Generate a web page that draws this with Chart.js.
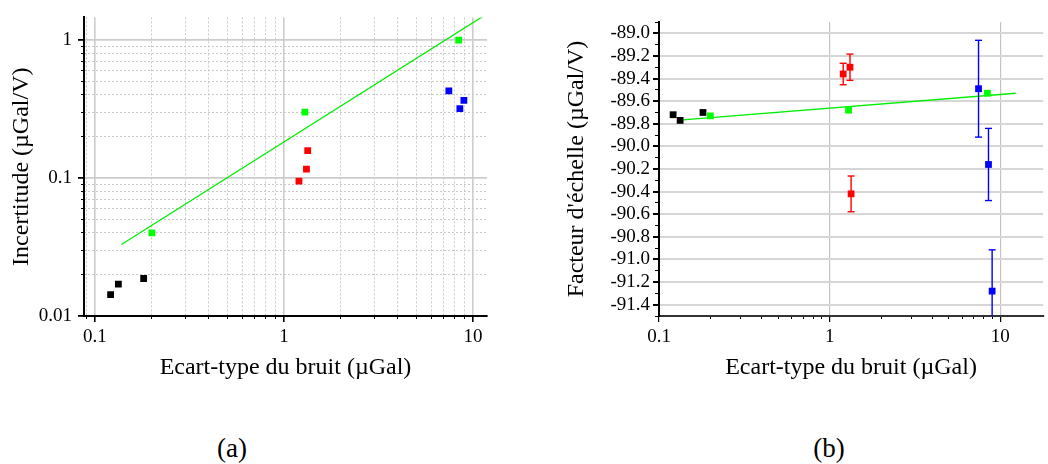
<!DOCTYPE html>
<html>
<head>
<meta charset="utf-8">
<script src="https://cdn.jsdelivr.net/npm/chart.js@4"></script>
<style>
  body { margin: 0; background: #fff; }
  #wrap { position: relative; width: 1048px; height: 464px; }
  canvas { position: absolute; top: 0; }
  .cap { position: absolute; top: 433px; width: 60px; text-align: center;
         font: 27px "Liberation Serif", serif; color: #000; }
</style>
</head>
<body>
<div id="wrap">
  <canvas id="chartA" width="520" height="400" style="left:0"></canvas>
  <canvas id="chartB" width="528" height="400" style="left:520px"></canvas>
  <div class="cap" style="left:202px">(a)</div>
  <div class="cap" style="left:799px">(b)</div>
</div>
<script>
// noise std dev (µGal) for each group
const xBlack = [0.121, 0.133, 0.181];
const xGreen = [0.2, 1.29, 8.4];
const xRed = [1.2, 1.315, 1.335];
const xBlue = [7.45, 8.52, 8.95];

// uncertainty (µGal/V)
const uBlack = [0.0143, 0.0170, 0.0187];
const uGreen = [0.040, 0.30, 1.0];
const uRed = [0.095, 0.116, 0.158];
const uBlue = [0.428, 0.319, 0.365];

// scale factor (µGal/V)
const fBlack = [-89.72, -89.77, -89.70];
const fGreen = [-89.73, -89.68, -89.53];
const fRed = [-89.36, -89.30, -90.42];
const fBlue = [-89.49, -90.16, -91.28];

// fit lines
const fitX = [0.138, 12.3];
const fitU = [0.033, 1.60];
const fitF = [-89.765, -89.53];

// ticks
const logMajorX = [0.1, 1, 10];
const logMinorX = [0.09, 0.2, 0.3, 0.4, 0.5, 0.6, 0.7, 0.8, 0.9, 2, 3, 4, 5, 6, 7, 8, 9];
const logMajorY = [0.01, 0.1, 1];
const logMinorY = [0.02, 0.03, 0.04, 0.05, 0.06, 0.07, 0.08, 0.09, 0.2, 0.3, 0.4, 0.5, 0.6, 0.7, 0.8, 0.9];
const factorMajor = [-91.4, -91.2, -91.0, -90.8, -90.6, -90.4, -90.2, -90.0, -89.8, -89.6, -89.4, -89.2, -89.0];
const factorMinor = [-91.5, -91.3, -91.1, -90.9, -90.7, -90.5, -90.3, -90.1, -89.9, -89.7, -89.5, -89.3, -89.1, -88.9];

const FONT = '"Liberation Serif", serif';
const GREEN = '#00ee00';

function pts(xs, ys) {
    return xs.map((x, i) => ({x: x, y: ys[i]}));
}

// error bars as broken line segments with caps
function errBars(xs, ys, es) {
    var out = [];
    xs.forEach((x, i) => {
        out.push({x: x, y: ys[i] - es[i]});
        out.push({x: x, y: ys[i] + es[i]});
        out.push({x: x, y: null});
    });
    return out;
}

function markers(data, color) {
    return {
        type: 'scatter', data: data, backgroundColor: color, borderWidth: 0,
        pointStyle: 'rect', pointRadius: 4.8, pointHoverRadius: 4.8
    };
}

function setTicks(list) {
    return (scale) => { scale.ticks = list.map(v => ({value: v})); };
}

function fixW(w) { return (scale) => { scale.width = w; }; }
function fixH(h) { return (scale) => { scale.height = h; }; }

const tickFont = {family: FONT, size: 19};
const titleFont = {family: FONT, size: 24};

new Chart(document.getElementById('chartA'), {
    type: 'scatter',
    data: {
        datasets: [
            markers(pts(xBlack, uBlack), '#000'),
            markers(pts(xGreen, uGreen), '#00ff00'),
            markers(pts(xRed, uRed), '#ff0000'),
            markers(pts(xBlue, uBlue), '#0000ff'),
            {type: 'line', data: pts(fitX, fitU), borderColor: GREEN, borderWidth: 1.3, pointRadius: 0, fill: false}
        ]
    },
    options: {
        responsive: false,
        animation: false,
        layout: {padding: {left: 0, top: 17, right: 33, bottom: 0}},
        plugins: {legend: {display: false}, tooltip: {enabled: false}},
        scales: {
            xm: {
                type: 'logarithmic', position: 'bottom', min: 0.0875, max: 11.86, weight: -1,
                afterBuildTicks: setTicks(logMinorX), afterFit: fixH(0),
                ticks: {display: false},
                grid: {color: '#c8c8c8', lineWidth: 1, tickLength: 3, tickColor: '#000'},
                border: {display: false, dash: [2, 2]}
            },
            ym: {
                type: 'logarithmic', position: 'left', min: 0.01, max: 1.46, weight: -1,
                afterBuildTicks: setTicks(logMinorY), afterFit: fixW(0),
                ticks: {display: false},
                grid: {color: '#c8c8c8', lineWidth: 1, tickLength: 3, tickColor: '#000'},
                border: {display: false, dash: [2, 2]}
            },
            x: {
                type: 'logarithmic', min: 0.0875, max: 11.86,
                afterBuildTicks: setTicks(logMajorX), afterFit: fixH(84),
                ticks: {font: tickFont, color: '#000', padding: 4, maxRotation: 0, autoSkip: false, callback: v => String(v)},
                grid: {color: '#cccccc', lineWidth: 1.6, tickLength: 6, tickColor: '#000'},
                border: {color: '#000', width: 2},
                title: {display: true, text: 'Ecart-type du bruit (µGal)', font: titleFont, color: '#000', padding: {top: 0, bottom: 18}}
            },
            y: {
                type: 'logarithmic', min: 0.01, max: 1.46,
                afterBuildTicks: setTicks(logMajorY), afterFit: fixW(84),
                ticks: {font: tickFont, color: '#000', padding: 6, autoSkip: false, callback: v => String(v)},
                grid: {color: '#cccccc', lineWidth: 1.8, tickLength: 6, tickColor: '#000'},
                border: {color: '#000', width: 2},
                title: {display: true, text: 'Incertitude (µGal/V)', font: titleFont, color: '#000', padding: {top: 7, bottom: 0}}
            }
        }
    }
});

const errRed = uRed;
const errBlue = uBlue;

function bars(data, color) {
    return {
        type: 'line', data: data, borderColor: color, backgroundColor: color, borderWidth: 1.4,
        pointStyle: 'line', pointRadius: 3.5, pointHoverRadius: 3.5, pointBorderWidth: 1.4,
        pointBorderColor: color, spanGaps: false, fill: false
    };
}

new Chart(document.getElementById('chartB'), {
    type: 'scatter',
    data: {
        datasets: [
            markers(pts(xBlack, fBlack), '#000'),
            markers(pts(xGreen, fGreen), '#00ff00'),
            markers(pts(xRed, fRed), '#ff0000'),
            markers(pts(xBlue, fBlue), '#0000ff'),
            bars(errBars(xRed, fRed, errRed), '#ff0000'),
            bars(errBars(xBlue, fBlue, errBlue), '#0000ff'),
            {type: 'line', data: pts(fitX, fitF), borderColor: GREEN, borderWidth: 1.3, pointRadius: 0, fill: false}
        ]
    },
    options: {
        responsive: false,
        animation: false,
        layout: {padding: {left: 0, top: 22, right: 3, bottom: 0}},
        plugins: {legend: {display: false}, tooltip: {enabled: false}},
        scales: {
            xm: {
                type: 'logarithmic', position: 'bottom', min: 0.1, max: 17.8, weight: -1,
                afterBuildTicks: setTicks(logMinorX.filter(v => v > 0.1)), afterFit: fixH(0),
                ticks: {display: false},
                grid: {drawOnChartArea: false, tickLength: 3, tickColor: '#000'},
                border: {display: false}
            },
            ym: {
                type: 'linear', position: 'left', min: -91.5, max: -88.9, weight: -1,
                afterBuildTicks: setTicks(factorMinor), afterFit: fixW(0),
                ticks: {display: false},
                grid: {drawOnChartArea: false, tickLength: 4, tickColor: '#000'},
                border: {display: false}
            },
            x: {
                type: 'logarithmic', min: 0.1, max: 17.8,
                afterBuildTicks: setTicks(logMajorX), afterFit: fixH(84),
                ticks: {font: tickFont, color: '#000', padding: 4, maxRotation: 0, autoSkip: false, callback: v => String(v)},
                grid: {color: '#c4c4c4', lineWidth: 1.2, tickLength: 6, tickColor: '#000'},
                border: {color: '#333', width: 2},
                title: {display: true, text: 'Ecart-type du bruit (µGal)', font: titleFont, color: '#000', padding: {top: 0, bottom: 18}}
            },
            y: {
                type: 'linear', min: -91.5, max: -88.9,
                afterBuildTicks: setTicks(factorMajor), afterFit: fixW(139),
                ticks: {font: tickFont, color: '#000', padding: 3, autoSkip: false, callback: v => v.toFixed(1)},
                grid: {color: '#d6d6d6', lineWidth: 2, tickLength: 6, tickColor: '#000'},
                border: {color: '#000', width: 2},
                title: {display: true, text: "Facteur d'échelle (µGal/V)", font: titleFont, color: '#000', padding: {top: 42, bottom: 0}}
            }
        }
    }
});
</script>
</body>
</html>
